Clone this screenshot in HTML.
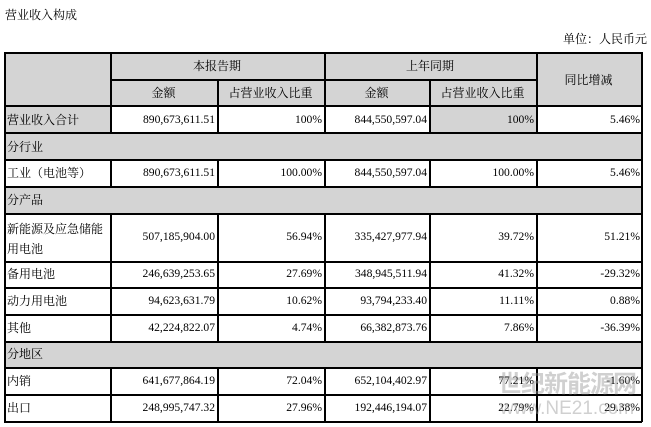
<!DOCTYPE html><html><head><meta charset="utf-8"><style>
body{margin:0;width:651px;height:427px;background:#fff;position:relative;overflow:hidden;font-family:"Liberation Serif","Noto Serif CJK SC",serif;font-size:12px;color:#000}
div{position:absolute;box-sizing:border-box}
.g{background:#d4d4d4}
.h{background:#000;height:1.5px}
.v{background:#000;width:1.5px}
.t{white-space:nowrap;line-height:16px}
.r{text-align:right;font-size:11.6px}
.c{text-align:center}
</style></head><body>
<div class="t" style="left:5px;top:7px">营业收入构成</div>
<div class="t" style="left:563px;top:31px">单位：人民币元</div>
<div class="g" style="left:4px;top:52px;width:637px;height:53px"></div>
<div class="g" style="left:4px;top:105px;width:106px;height:27px"></div>
<div class="g" style="left:429px;top:105px;width:107px;height:27px"></div>
<div class="g" style="left:4px;top:132px;width:637px;height:27px"></div>
<div class="g" style="left:4px;top:186px;width:637px;height:27px"></div>
<div class="g" style="left:4px;top:341px;width:637px;height:26px"></div>
<div class="h" style="left:4px;top:52px;width:638px"></div>
<div class="h" style="left:110px;top:79px;width:426px"></div>
<div class="h" style="left:4px;top:105px;width:638px"></div>
<div class="h" style="left:4px;top:132px;width:638px"></div>
<div class="h" style="left:4px;top:159px;width:638px"></div>
<div class="h" style="left:4px;top:186px;width:638px"></div>
<div class="h" style="left:4px;top:213px;width:638px"></div>
<div class="h" style="left:4px;top:261px;width:638px"></div>
<div class="h" style="left:4px;top:287px;width:638px"></div>
<div class="h" style="left:4px;top:314px;width:638px"></div>
<div class="h" style="left:4px;top:341px;width:638px"></div>
<div class="h" style="left:4px;top:367px;width:638px"></div>
<div class="h" style="left:4px;top:394px;width:638px"></div>
<div class="h" style="left:4px;top:421px;width:638px"></div>
<div class="v" style="left:4px;top:52px;height:370px"></div>
<div class="v" style="left:641px;top:52px;height:370px"></div>
<div class="v" style="left:110px;top:52px;height:80px"></div>
<div class="v" style="left:324px;top:52px;height:80px"></div>
<div class="v" style="left:536px;top:52px;height:80px"></div>
<div class="v" style="left:217px;top:79px;height:53px"></div>
<div class="v" style="left:429px;top:79px;height:53px"></div>
<div class="v" style="left:110px;top:159px;height:27px"></div>
<div class="v" style="left:217px;top:159px;height:27px"></div>
<div class="v" style="left:324px;top:159px;height:27px"></div>
<div class="v" style="left:429px;top:159px;height:27px"></div>
<div class="v" style="left:536px;top:159px;height:27px"></div>
<div class="v" style="left:110px;top:213px;height:128px"></div>
<div class="v" style="left:217px;top:213px;height:128px"></div>
<div class="v" style="left:324px;top:213px;height:128px"></div>
<div class="v" style="left:429px;top:213px;height:128px"></div>
<div class="v" style="left:536px;top:213px;height:128px"></div>
<div class="v" style="left:110px;top:367px;height:55px"></div>
<div class="v" style="left:217px;top:367px;height:55px"></div>
<div class="v" style="left:324px;top:367px;height:55px"></div>
<div class="v" style="left:429px;top:367px;height:55px"></div>
<div class="v" style="left:536px;top:367px;height:55px"></div>
<div class="t c" style="left:110px;top:58px;width:214px">本报告期</div>
<div class="t c" style="left:324px;top:58px;width:212px">上年同期</div>
<div class="t c" style="left:536px;top:72px;width:105px">同比增减</div>
<div class="t c" style="left:110px;top:85px;width:107px">金额</div>
<div class="t c" style="left:217px;top:85px;width:107px">占营业收入比重</div>
<div class="t c" style="left:324px;top:85px;width:105px">金额</div>
<div class="t c" style="left:429px;top:85px;width:107px">占营业收入比重</div>
<div class="t" style="left:7px;top:112px">营业收入合计</div>
<div class="t" style="left:7px;top:139px">分行业</div>
<div class="t" style="left:7px;top:165px">工业（电池等）</div>
<div class="t" style="left:7px;top:192px">分产品</div>
<div class="t" style="left:7px;top:219px;line-height:20px">新能源及应急储能<br>用电池</div>
<div class="t" style="left:7px;top:266px">备用电池</div>
<div class="t" style="left:7px;top:293px">动力用电池</div>
<div class="t" style="left:7px;top:320px">其他</div>
<div class="t" style="left:7px;top:346px">分地区</div>
<div class="t" style="left:7px;top:373px">内销</div>
<div class="t" style="left:7px;top:400px">出口</div>
<div class="t r" style="left:110px;width:105px;top:112px">890,673,611.51</div>
<div class="t r" style="left:217px;width:105px;top:112px">100%</div>
<div class="t r" style="left:324px;width:103px;top:112px">844,550,597.04</div>
<div class="t r" style="left:429px;width:105px;top:112px">100%</div>
<div class="t r" style="left:536px;width:104px;top:112px">5.46%</div>
<div class="t r" style="left:110px;width:105px;top:165px">890,673,611.51</div>
<div class="t r" style="left:217px;width:105px;top:165px">100.00%</div>
<div class="t r" style="left:324px;width:103px;top:165px">844,550,597.04</div>
<div class="t r" style="left:429px;width:105px;top:165px">100.00%</div>
<div class="t r" style="left:536px;width:104px;top:165px">5.46%</div>
<div class="t r" style="left:110px;width:105px;top:229px">507,185,904.00</div>
<div class="t r" style="left:217px;width:105px;top:229px">56.94%</div>
<div class="t r" style="left:324px;width:103px;top:229px">335,427,977.94</div>
<div class="t r" style="left:429px;width:105px;top:229px">39.72%</div>
<div class="t r" style="left:536px;width:104px;top:229px">51.21%</div>
<div class="t r" style="left:110px;width:105px;top:266px">246,639,253.65</div>
<div class="t r" style="left:217px;width:105px;top:266px">27.69%</div>
<div class="t r" style="left:324px;width:103px;top:266px">348,945,511.94</div>
<div class="t r" style="left:429px;width:105px;top:266px">41.32%</div>
<div class="t r" style="left:536px;width:104px;top:266px">-29.32%</div>
<div class="t r" style="left:110px;width:105px;top:293px">94,623,631.79</div>
<div class="t r" style="left:217px;width:105px;top:293px">10.62%</div>
<div class="t r" style="left:324px;width:103px;top:293px">93,794,233.40</div>
<div class="t r" style="left:429px;width:105px;top:293px">11.11%</div>
<div class="t r" style="left:536px;width:104px;top:293px">0.88%</div>
<div class="t r" style="left:110px;width:105px;top:320px">42,224,822.07</div>
<div class="t r" style="left:217px;width:105px;top:320px">4.74%</div>
<div class="t r" style="left:324px;width:103px;top:320px">66,382,873.76</div>
<div class="t r" style="left:429px;width:105px;top:320px">7.86%</div>
<div class="t r" style="left:536px;width:104px;top:320px">-36.39%</div>
<div class="t r" style="left:110px;width:105px;top:373px">641,677,864.19</div>
<div class="t r" style="left:217px;width:105px;top:373px">72.04%</div>
<div class="t r" style="left:324px;width:103px;top:373px">652,104,402.97</div>
<div class="t r" style="left:429px;width:105px;top:373px">77.21%</div>
<div class="t r" style="left:536px;width:104px;top:373px">-1.60%</div>
<div class="t r" style="left:110px;width:105px;top:400px">248,995,747.32</div>
<div class="t r" style="left:217px;width:105px;top:400px">27.96%</div>
<div class="t r" style="left:324px;width:103px;top:400px">192,446,194.07</div>
<div class="t r" style="left:429px;width:105px;top:400px">22.79%</div>
<div class="t r" style="left:536px;width:104px;top:400px">29.38%</div>
<div class="t" style="left:498px;top:372px;font-family:'Liberation Sans','Noto Sans CJK SC',sans-serif;font-size:24px;line-height:26px;color:rgba(150,150,150,0.45);font-weight:bold;letter-spacing:-1px">世纪新能源网</div>
<div class="t" style="left:500px;top:398px;font-family:'Liberation Sans',sans-serif;font-size:19px;line-height:22px;color:rgba(150,150,150,0.45)">www.NE21.com</div>
</body></html>
